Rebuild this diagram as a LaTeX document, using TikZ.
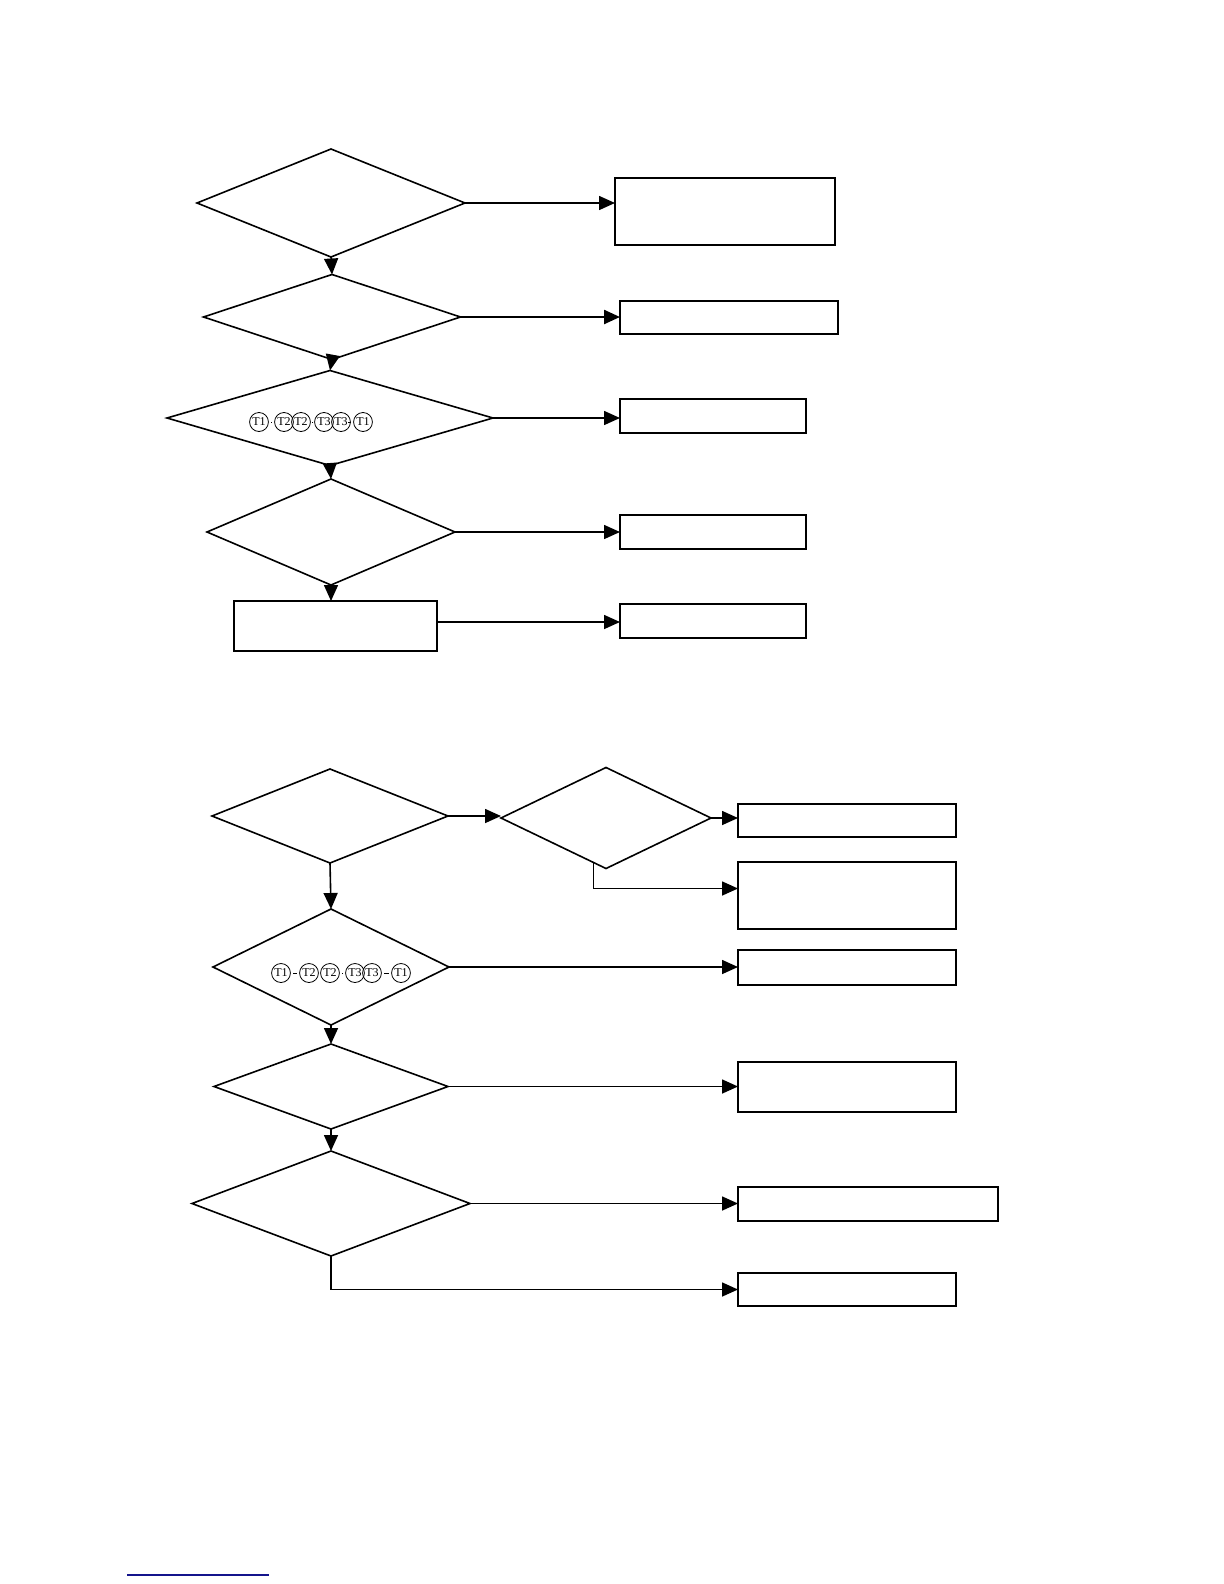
\documentclass[tikz,border=0pt]{standalone}
\usepackage{fontspec}
\setmainfont{Liberation Serif}
\usetikzlibrary{shapes.geometric,arrows.meta,calc}
\begin{document}
\begin{tikzpicture}[x=0.5pt,y=-0.5pt,
  line width=0.8pt,
  dia/.style={diamond,draw,inner sep=0pt,outer sep=0pt,aspect=1},
  boxn/.style={rectangle,draw,inner sep=0pt,outer sep=0pt},
  thickbox/.style={boxn,line width=1.4pt},
  arr/.style={-{Triangle[length=8pt,width=7pt]}},
  tc/.style={ellipse,draw,line width=0.4pt,inner sep=0pt,minimum width=7.5pt,minimum height=9.5pt,font=\fontsize{6}{6}\selectfont},
  dsh/.style={line width=0.4pt,shorten <=1.3pt,shorten >=1.3pt}]
\useasboundingbox (0,0) rectangle (1224,1584);

% ---------- top chart ----------
\node[dia,minimum width=134pt,minimum height=54pt] (D1) at (331,203) {};
\node[dia,minimum width=128.5pt,minimum height=42.5pt] (D2) at (332,317) {};
\node[dia,minimum width=163pt,minimum height=47.5pt] (D3) at (330,418) {};
\node[dia,minimum width=124pt,minimum height=53pt] (D4) at (331,532) {};
\node[boxn,minimum width=101.5pt,minimum height=25pt] (P5) at (335.5,626) {};

\node[boxn,minimum width=110pt,minimum height=33.5pt] (A1) at (725,211.5) {};
\node[thickbox,minimum width=109pt,minimum height=16.5pt] (A2) at (729,317.5) {};
\node[boxn,minimum width=93pt,minimum height=17pt] (A3) at (713,416) {};
\node[boxn,minimum width=93pt,minimum height=17pt] (A4) at (713,532) {};
\node[boxn,minimum width=93pt,minimum height=17pt] (A6) at (713,621) {};

\draw[arr] (D1.south) -- (D2.north);
\draw[arr] (D2.south) -- (D3.north);
\draw[arr] (D3.south) -- (D4.north);
\draw[arr] (D4.south) -- (D4.south |- P5.north);

\draw[arr] (D1.east) -- (D1.east -| A1.west);
\draw[arr,line width=1.2pt] (D2.east) -- (D2.east -| A2.west);
\draw[arr] (D3.east) -- (D3.east -| A3.west);
\draw[arr] (D4.east) -- (D4.east -| A4.west);
\coordinate (p5o) at ($(P5.east)+(0,-4)$);
\draw[arr] (p5o) -- (p5o -| A6.west);

% circled labels, top
\node[tc] (t1) at (259,422) {T1};
\node[tc] (t2) at (284,422) {T2};
\node[tc] (t3) at (301,422) {T2};
\node[tc] (t4) at (324,422) {T3};
\node[tc] (t5) at (341,422) {T3};
\node[tc] (t6) at (363,422) {T1};
\draw[dsh] (t1.east) -- (t2.west);
\draw[dsh] (t3.east) -- (t4.west);
\draw[dsh] (t5.east) -- (t6.west);

% ---------- bottom chart ----------
\node[dia,minimum width=118pt,minimum height=47pt] (E1) at (330,816) {};
\node[dia,minimum width=105pt,minimum height=50.5pt] (E2) at (606,818) {};
\node[dia,minimum width=118pt,minimum height=58pt] (E3) at (331,967) {};
\node[dia,minimum width=117pt,minimum height=42.5pt] (E4) at (331,1086.5) {};
\node[dia,minimum width=139pt,minimum height=52.5pt] (E5) at (331,1203.5) {};

\node[boxn,minimum width=109pt,minimum height=16.5pt] (B1) at (847,820.5) {};
\node[boxn,minimum width=109pt,minimum height=33.5pt] (B2) at (847,895.5) {};
\node[boxn,minimum width=109pt,minimum height=17.5pt] (B3) at (847,967.5) {};
\node[boxn,minimum width=109pt,minimum height=25pt] (B4) at (847,1087) {};
\node[thickbox,minimum width=130pt,minimum height=17pt] (B5) at (868,1204) {};
\node[boxn,minimum width=109pt,minimum height=16.5pt] (B6) at (847,1289.5) {};

\draw[arr] (E1.east) -- (E1.east -| E2.west);
\draw[arr] (E2.east) -- (E2.east -| B1.west);
\coordinate (e2s) at ($(E2.south)!0.12!(E2.west)$);
\coordinate (b2in) at ($(B2.west)+(0,-7)$);
\draw[arr] (e2s) |- (b2in);
\draw[arr] (E1.south) -- (E3.north);
\draw[arr] (E3.east) -- (E3.east -| B3.west);
\draw[arr] (E3.south) -- (E4.north);
\draw[arr] (E4.east) -- (E4.east -| B4.west);
\draw[arr] (E4.south) -- (E5.north);
\draw[arr] (E5.east) -- (E5.east -| B5.west);
\draw[arr] (E5.south) |- (B6.west);

% circled labels, bottom
\node[tc] (s1) at (281,973) {T1};
\node[tc] (s2) at (309,973) {T2};
\node[tc] (s3) at (330,973) {T2};
\node[tc] (s4) at (355,973) {T3};
\node[tc] (s5) at (372,973) {T3};
\node[tc] (s6) at (401,973) {T1};
\draw[dsh] (s1.east) -- (s2.west);
\draw[dsh] (s3.east) -- (s4.west);
\draw[dsh] (s5.east) -- (s6.west);

% link underline at the foot of the page
\coordinate (u1) at (127,1575);
\coordinate (u2) at (269,1575);
\draw[color={rgb,255:red,20;green,20;blue,140},line width=1pt] (u1) -- (u2);
\end{tikzpicture}
\end{document}
